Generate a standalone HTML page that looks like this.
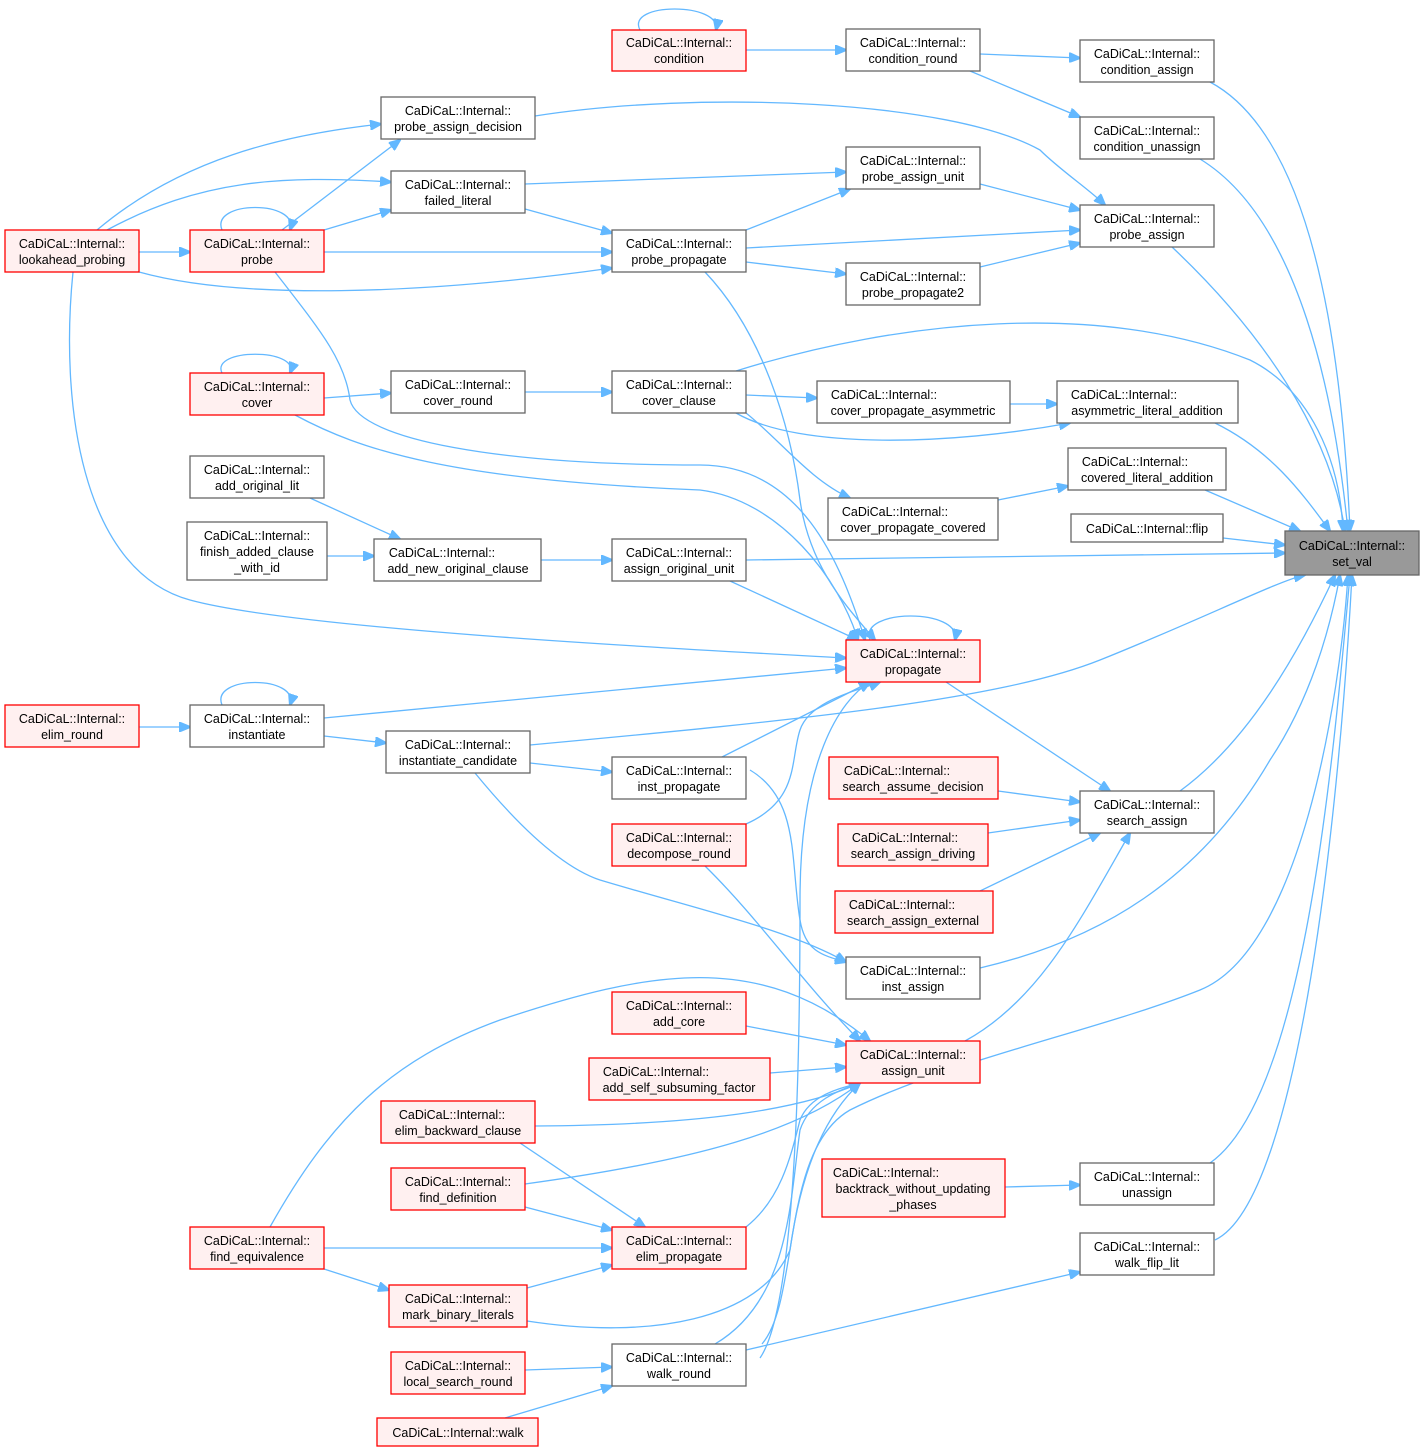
<!DOCTYPE html>
<html><head><meta charset="utf-8"><style>
html,body{margin:0;padding:0;background:#fff;}
svg{display:block;}
text{font-family:"Liberation Sans",Arial,sans-serif;font-size:12.5px;fill:#000;text-anchor:middle;}
.n rect{fill:#fff;stroke:#666;stroke-width:1.3;}
.r rect{fill:#fff0f0;stroke:#f00;stroke-width:1.3;}
.g rect{fill:#999;stroke:#666;stroke-width:1.3;}
path{fill:none;stroke:#63b8ff;stroke-width:1.3;}
</style></head><body>
<svg width="1425" height="1451" viewBox="0 0 1425 1451" xmlns="http://www.w3.org/2000/svg">
<defs><marker id="a" markerWidth="12" markerHeight="10" refX="11" refY="5" orient="auto" markerUnits="userSpaceOnUse"><path d="M0,0 L12,5 L0,10 Z" style="fill:#63b8ff;stroke:#63b8ff"/></marker></defs>
<g marker-end="url(#a)">
<path d="M746,50 L846,50"/>
<path d="M640,30 C625,2 722,2 716,30"/>
<path d="M980,54 L1080,58"/>
<path d="M970,71 L1080,117"/>
<path d="M1210,82 C1300,130 1340,300 1350,531"/>
<path d="M1200,159 C1300,220 1335,400 1348,531"/>
<path d="M97,230 C180,160 280,135 381,124"/>
<path d="M107,230 C200,180 280,175 391,182"/>
<path d="M139,252 L190,252"/>
<path d="M139,272 C240,300 420,295 612,268"/>
<path d="M73,272 C60,400 80,570 190,600 C300,630 700,650 846,658"/>
<path d="M222,230 C210,200 300,200 290,230"/>
<path d="M282,230 L400,140"/>
<path d="M324,230 L391,210"/>
<path d="M324,252 L612,252"/>
<path d="M535,116 C700,90 950,100 1040,150 C1060,170 1090,190 1105,205"/>
<path d="M525,184 L846,172"/>
<path d="M525,209 L612,233"/>
<path d="M746,230 L850,189"/>
<path d="M746,248 L1080,230"/>
<path d="M746,262 L846,274"/>
<path d="M705,272 C760,330 790,420 800,500 C810,570 850,610 875,640"/>
<path d="M980,184 L1080,210"/>
<path d="M980,267 L1080,243"/>
<path d="M1172,247 C1260,330 1330,430 1345,531"/>
<path d="M275,272 C320,330 345,360 350,400 C360,440 500,465 700,465 C800,465 840,560 865,640"/>
<path d="M222,373 C210,348 300,348 290,373"/>
<path d="M324,398 L391,393"/>
<path d="M295,415 C360,450 450,480 700,490 C780,500 840,580 858,640"/>
<path d="M525,392 L612,392"/>
<path d="M746,395 L817,398"/>
<path d="M736,371 C900,320 1100,300 1250,360 C1310,390 1340,460 1343,531"/>
<path d="M746,413 C780,440 810,480 850,498"/>
<path d="M1010,404 L1057,404"/>
<path d="M736,413 C800,450 950,445 1070,423"/>
<path d="M1215,423 C1270,450 1300,490 1330,531"/>
<path d="M998,500 L1068,486"/>
<path d="M1205,490 L1300,531"/>
<path d="M1223,538 L1285,545"/>
<path d="M310,498 L400,539"/>
<path d="M327,556 L374,556"/>
<path d="M541,560 L612,560"/>
<path d="M746,560 L1285,553"/>
<path d="M730,581 L858,640"/>
<path d="M870,640 C858,608 962,608 955,640"/>
<path d="M946,682 L1110,791"/>
<path d="M324,718 L846,668"/>
<path d="M139,727 L190,727"/>
<path d="M222,705 C210,675 300,675 290,705"/>
<path d="M324,736 L386,743"/>
<path d="M530,745 C800,720 1000,700 1100,660 C1200,620 1280,580 1305,575"/>
<path d="M530,763 L612,772"/>
<path d="M475,773 C530,840 570,870 600,880 C700,910 790,930 846,962"/>
<path d="M722,757 L870,682"/>
<path d="M750,770 C800,800 790,860 800,920 C805,950 820,955 846,962"/>
<path d="M746,824 C800,800 790,760 800,730 C810,700 860,690 880,682"/>
<path d="M705,866 C760,920 800,980 860,1041"/>
<path d="M998,791 L1080,802"/>
<path d="M988,833 L1080,820"/>
<path d="M980,891 L1100,833"/>
<path d="M1180,791 C1250,740 1300,650 1335,575"/>
<path d="M980,968 C1100,940 1200,880 1270,760 C1310,700 1330,630 1340,575"/>
<path d="M965,1041 C1040,1000 1080,920 1130,833"/>
<path d="M762,1344 C800,1300 780,1150 850,1110 C950,1060 1100,1030 1200,990 C1300,950 1340,700 1348,575"/>
<path d="M760,1358 C800,1300 800,1000 800,900 C800,760 840,700 870,682"/>
<path d="M746,1350 L1080,1272"/>
<path d="M715,1344 C790,1300 790,1200 800,1130 C810,1100 840,1090 860,1083"/>
<path d="M270,1227 C330,1120 390,1060 500,1020 C650,970 760,950 870,1041"/>
<path d="M324,1248 L612,1248"/>
<path d="M324,1269 L389,1290"/>
<path d="M746,1026 L846,1045"/>
<path d="M770,1073 L846,1067"/>
<path d="M535,1126 C700,1125 800,1110 860,1083"/>
<path d="M520,1143 L645,1227"/>
<path d="M525,1184 C700,1160 800,1130 860,1083"/>
<path d="M525,1207 L612,1230"/>
<path d="M527,1321 C650,1340 760,1320 790,1250 C800,1180 820,1120 860,1083"/>
<path d="M527,1288 L612,1265"/>
<path d="M746,1227 C780,1200 790,1160 800,1120 C810,1095 840,1088 860,1083"/>
<path d="M525,1370 L612,1367"/>
<path d="M505,1418 L612,1386"/>
<path d="M1005,1187 L1080,1185"/>
<path d="M1210,1163 C1300,1100 1330,800 1350,575"/>
<path d="M1215,1240 C1300,1200 1340,800 1352,575"/>
</g>

<g class="r"><rect x="612" y="30" width="134" height="41"/><text x="679" y="47">CaDiCaL::Internal::</text><text x="679" y="63">condition</text></g>
<g class="n"><rect x="846" y="29" width="134" height="42"/><text x="913" y="47">CaDiCaL::Internal::</text><text x="913" y="63">condition_round</text></g>
<g class="n"><rect x="1080" y="40" width="134" height="42"/><text x="1147" y="58">CaDiCaL::Internal::</text><text x="1147" y="74">condition_assign</text></g>
<g class="n"><rect x="1080" y="117" width="134" height="42"/><text x="1147" y="135">CaDiCaL::Internal::</text><text x="1147" y="151">condition_unassign</text></g>
<g class="n"><rect x="381" y="97" width="154" height="42"/><text x="458" y="115">CaDiCaL::Internal::</text><text x="458" y="131">probe_assign_decision</text></g>
<g class="n"><rect x="391" y="171" width="134" height="42"/><text x="458" y="189">CaDiCaL::Internal::</text><text x="458" y="205">failed_literal</text></g>
<g class="n"><rect x="846" y="147" width="134" height="42"/><text x="913" y="165">CaDiCaL::Internal::</text><text x="913" y="181">probe_assign_unit</text></g>
<g class="n"><rect x="1080" y="205" width="134" height="42"/><text x="1147" y="223">CaDiCaL::Internal::</text><text x="1147" y="239">probe_assign</text></g>
<g class="r"><rect x="5" y="230" width="134" height="42"/><text x="72" y="248">CaDiCaL::Internal::</text><text x="72" y="264">lookahead_probing</text></g>
<g class="r"><rect x="190" y="230" width="134" height="42"/><text x="257" y="248">CaDiCaL::Internal::</text><text x="257" y="264">probe</text></g>
<g class="n"><rect x="612" y="230" width="134" height="42"/><text x="679" y="248">CaDiCaL::Internal::</text><text x="679" y="264">probe_propagate</text></g>
<g class="n"><rect x="846" y="263" width="134" height="42"/><text x="913" y="281">CaDiCaL::Internal::</text><text x="913" y="297">probe_propagate2</text></g>
<g class="r"><rect x="190" y="373" width="134" height="42"/><text x="257" y="391">CaDiCaL::Internal::</text><text x="257" y="407">cover</text></g>
<g class="n"><rect x="391" y="371" width="134" height="42"/><text x="458" y="389">CaDiCaL::Internal::</text><text x="458" y="405">cover_round</text></g>
<g class="n"><rect x="612" y="371" width="134" height="42"/><text x="679" y="389">CaDiCaL::Internal::</text><text x="679" y="405">cover_clause</text></g>
<g class="n"><rect x="817" y="381" width="193" height="42"/><text x="884" y="399">CaDiCaL::Internal::</text><text x="913" y="415">cover_propagate_asymmetric</text></g>
<g class="n"><rect x="1057" y="381" width="181" height="42"/><text x="1124" y="399">CaDiCaL::Internal::</text><text x="1147" y="415">asymmetric_literal_addition</text></g>
<g class="n"><rect x="1068" y="448" width="158" height="42"/><text x="1135" y="466">CaDiCaL::Internal::</text><text x="1147" y="482">covered_literal_addition</text></g>
<g class="n"><rect x="828" y="498" width="170" height="42"/><text x="895" y="516">CaDiCaL::Internal::</text><text x="913" y="532">cover_propagate_covered</text></g>
<g class="n"><rect x="1071" y="514" width="152" height="28"/><text x="1147" y="533">CaDiCaL::Internal::flip</text></g>
<g class="g"><rect x="1285" y="531" width="134" height="44"/><text x="1352" y="550">CaDiCaL::Internal::</text><text x="1352" y="566">set_val</text></g>
<g class="n"><rect x="190" y="456" width="134" height="42"/><text x="257" y="474">CaDiCaL::Internal::</text><text x="257" y="490">add_original_lit</text></g>
<g class="n"><rect x="187" y="522" width="140" height="58"/><text x="257" y="540">CaDiCaL::Internal::</text><text x="257" y="556">finish_added_clause</text><text x="257" y="572">_with_id</text></g>
<g class="n"><rect x="374" y="539" width="167" height="42"/><text x="442" y="557">CaDiCaL::Internal::</text><text x="458" y="573">add_new_original_clause</text></g>
<g class="n"><rect x="612" y="539" width="134" height="42"/><text x="679" y="557">CaDiCaL::Internal::</text><text x="679" y="573">assign_original_unit</text></g>
<g class="r"><rect x="846" y="640" width="134" height="42"/><text x="913" y="658">CaDiCaL::Internal::</text><text x="913" y="674">propagate</text></g>
<g class="r"><rect x="5" y="705" width="134" height="42"/><text x="72" y="723">CaDiCaL::Internal::</text><text x="72" y="739">elim_round</text></g>
<g class="n"><rect x="190" y="705" width="134" height="42"/><text x="257" y="723">CaDiCaL::Internal::</text><text x="257" y="739">instantiate</text></g>
<g class="n"><rect x="386" y="731" width="144" height="42"/><text x="458" y="749">CaDiCaL::Internal::</text><text x="458" y="765">instantiate_candidate</text></g>
<g class="n"><rect x="612" y="757" width="134" height="42"/><text x="679" y="775">CaDiCaL::Internal::</text><text x="679" y="791">inst_propagate</text></g>
<g class="r"><rect x="829" y="757" width="169" height="42"/><text x="897" y="775">CaDiCaL::Internal::</text><text x="913" y="791">search_assume_decision</text></g>
<g class="n"><rect x="1080" y="791" width="134" height="42"/><text x="1147" y="809">CaDiCaL::Internal::</text><text x="1147" y="825">search_assign</text></g>
<g class="r"><rect x="612" y="824" width="134" height="42"/><text x="679" y="842">CaDiCaL::Internal::</text><text x="679" y="858">decompose_round</text></g>
<g class="r"><rect x="838" y="824" width="150" height="42"/><text x="905" y="842">CaDiCaL::Internal::</text><text x="913" y="858">search_assign_driving</text></g>
<g class="r"><rect x="835" y="891" width="158" height="42"/><text x="902" y="909">CaDiCaL::Internal::</text><text x="913" y="925">search_assign_external</text></g>
<g class="n"><rect x="846" y="957" width="134" height="42"/><text x="913" y="975">CaDiCaL::Internal::</text><text x="913" y="991">inst_assign</text></g>
<g class="r"><rect x="612" y="992" width="134" height="42"/><text x="679" y="1010">CaDiCaL::Internal::</text><text x="679" y="1026">add_core</text></g>
<g class="r"><rect x="846" y="1041" width="134" height="42"/><text x="913" y="1059">CaDiCaL::Internal::</text><text x="913" y="1075">assign_unit</text></g>
<g class="r"><rect x="589" y="1058" width="181" height="42"/><text x="656" y="1076">CaDiCaL::Internal::</text><text x="679" y="1092">add_self_subsuming_factor</text></g>
<g class="r"><rect x="381" y="1101" width="154" height="42"/><text x="452" y="1119">CaDiCaL::Internal::</text><text x="458" y="1135">elim_backward_clause</text></g>
<g class="r"><rect x="391" y="1168" width="134" height="42"/><text x="458" y="1186">CaDiCaL::Internal::</text><text x="458" y="1202">find_definition</text></g>
<g class="r"><rect x="822" y="1159" width="183" height="58"/><text x="886" y="1177">CaDiCaL::Internal::</text><text x="913" y="1193">backtrack_without_updating</text><text x="913" y="1209">_phases</text></g>
<g class="n"><rect x="1080" y="1163" width="134" height="42"/><text x="1147" y="1181">CaDiCaL::Internal::</text><text x="1147" y="1197">unassign</text></g>
<g class="r"><rect x="190" y="1227" width="134" height="42"/><text x="257" y="1245">CaDiCaL::Internal::</text><text x="257" y="1261">find_equivalence</text></g>
<g class="r"><rect x="612" y="1227" width="134" height="42"/><text x="679" y="1245">CaDiCaL::Internal::</text><text x="679" y="1261">elim_propagate</text></g>
<g class="n"><rect x="1080" y="1233" width="134" height="42"/><text x="1147" y="1251">CaDiCaL::Internal::</text><text x="1147" y="1267">walk_flip_lit</text></g>
<g class="r"><rect x="389" y="1285" width="138" height="42"/><text x="458" y="1303">CaDiCaL::Internal::</text><text x="458" y="1319">mark_binary_literals</text></g>
<g class="r"><rect x="391" y="1352" width="134" height="42"/><text x="458" y="1370">CaDiCaL::Internal::</text><text x="458" y="1386">local_search_round</text></g>
<g class="n"><rect x="612" y="1344" width="134" height="42"/><text x="679" y="1362">CaDiCaL::Internal::</text><text x="679" y="1378">walk_round</text></g>
<g class="r"><rect x="377" y="1418" width="161" height="28"/><text x="458" y="1437">CaDiCaL::Internal::walk</text></g>
</svg>
</body></html>
